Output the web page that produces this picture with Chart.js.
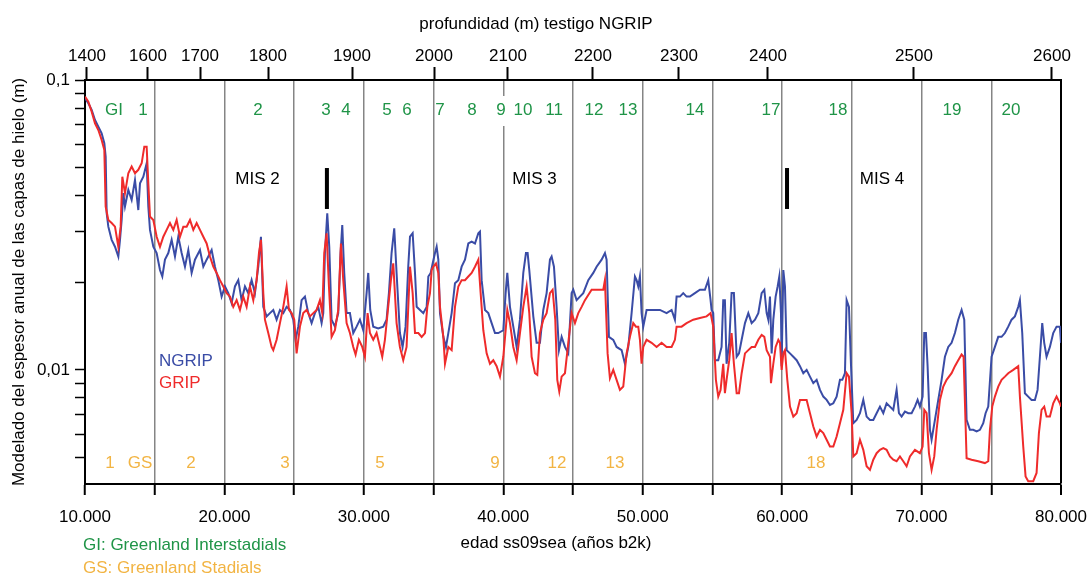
<!DOCTYPE html>
<html lang="es">
<head>
<meta charset="utf-8">
<title>Espesor anual de las capas de hielo - NGRIP / GRIP</title>
<script src="https://cdn.jsdelivr.net/npm/chart.js@4.4.1/dist/chart.umd.min.js"></script>
<style>
  html, body { margin: 0; padding: 0; background: #fff; }
  #wrap { width: 1089px; height: 576px; }
</style>
</head>
<body>
<div id="wrap"><canvas id="iceChart" width="1089" height="576"></canvas></div>
<script>
// Annual layer thickness (m) vs. ss09sea age (years b2k), NGRIP and GRIP cores

// [age, thickness]
const ngripSeries = [
  [10000,.0865],[10239,.0831],[10478,.0788],[10717,.0728],[10956,.0690],[11195,.0655],[11386,.0605],[11482,.0544],
  [11554,.0347],[11673,.0312],[11912,.0281],[12151,.0266],[12390,.0246],[12510,.0281],[12629,.0329],[12749,.0407],
  [12868,.0366],[13107,.0418],[13346,.0386],[13585,.0452],[13824,.0356],[13944,.0440],[14183,.0464],[14422,.0516],
  [14541,.0366],[14661,.0304],[14900,.0266],[15139,.0253],[15378,.0221],[15545,.0210],[15736,.0240],[15975,.0253],
  [16214,.0281],[16453,.0246],[16692,.0288],[16931,.0253],[17170,.0227],[17409,.0259],[17648,.0216],[17887,.0240],
  [18246,.0259],[18485,.0227],[18724,.0240],[19082,.0259],[19321,.0227],[19560,.0204],[19799,.0179],[20038,.0194],
  [20277,.0184],[20516,.0170],[20755,.0194],[20994,.0204],[21233,.0174],[21472,.0194],[21711,.0184],[21950,.0204],
  [22189,.0184],[22428,.0227],[22619,.0288],[22787,.0165],[23026,.0153],[23265,.0157],[23504,.0161],[23743,.0149],
  [23982,.0161],[24221,.0157],[24460,.0165],[24699,.0161],[24938,.0149],[25105,.0127],[25296,.0141],[25535,.0174],
  [25774,.0179],[26013,.0157],[26252,.0145],[26491,.0157],[26730,.0165],[26969,.0145],[27089,.0157],[27208,.0253],
  [27375,.0347],[27519,.0266],[27686,.0149],[27925,.0141],[28164,.0157],[28331,.0253],[28451,.0316],[28594,.0216],
  [28762,.0157],[29001,.0157],[29240,.0134],[29479,.0141],[29718,.0149],[29957,.0137],[30196,.0184],[30315,.0216],
  [30458,.0161],[30674,.0141],[31032,.0139],[31391,.0141],[31630,.0149],[31797,.0184],[31988,.0253],[32179,.0308],
  [32347,.0216],[32586,.0134],[32777,.0120],[32992,.0141],[33183,.0227],
  [33309,.0288],[33500,.0296],[33668,.0216],[33787,.0165],[34026,.0161],[34265,.0157],[34504,.0165],[34624,.0210],
  [34791,.0216],[34934,.0233],[35102,.0253],[35221,.0266],[35341,.0240],[35460,.0157],[35699,.0130],[35890,.0120],
  [36058,.0134],[36297,.0157],[36536,.0199],[36775,.0204],[37014,.0227],[37253,.0240],[37492,.0273],[37731,.0277],
  [37970,.0273],[38209,.0296],[38328,.0300],[38448,.0204],[38687,.0161],[38926,.0157],[39165,.0145],[39404,.0134],
  [39643,.0134],[40001,.0137],[40168,.0184],[40288,.0216],[40479,.0165],[40718,.0141],[40957,.0120],[41196,.0149],
  [41435,.0216],[41626,.0253],[41746,.0253],[41865,.0221],[42152,.0153],[42391,.0124],[42630,.0124],[42869,.0161],
  [43108,.0184],[43347,.0240],[43467,.0246],[43634,.0227],[43825,.0165],[43992,.0117],[44184,.0130],[44423,.0120],
  [44662,.0114],[44901,.0184],[45020,.0189],[45259,.0174],[45498,.0179],[45737,.0184],[46096,.0204],[46454,.0216],
  [46693,.0227],[47052,.0240],[47291,.0253],[47410,.0240],[47577,.0130],[47888,.0127],[48127,.0120],[48486,.0117],
  [48725,.0105],[48964,.0120],[49203,.0157],[49442,.0210],[49561,.0204],[49681,.0194],[49800,.0210],[49920,.0157],
  [50039,.0141],[50278,.0161],[50517,.0161],[50876,.0161],[51234,.0161],[51712,.0157],[52071,.0161],[52310,.0149],
  [52429,.0179],[52668,.0179],[52907,.0184],[53146,.0179],[53385,.0179],[53744,.0184],[54102,.0189],[54461,.0189],
  [54700,.0204],[54867,.0174],[54939,.0161],[55058,.0157],[55178,.0108],[55417,.0108],[55656,.0120],[55775,.0174],
  [55895,.0174],[56014,.0105],[56205,.0124],[56373,.0184],[56540,.0184],
  [56738,.0111],[56905,.0114],[57096,.0127],[57335,.0145],[57574,.0157],[57813,.0145],[58052,.0149],[58291,.0157],
  [58530,.0184],[58721,.0189],[58889,.0157],[59008,.0149],[59128,.0179],[59247,.0114],[59367,.0149],[59534,.0179],
  [59677,.0194],[59797,.0210],[59916,.0157],[59964,.0103],[60084,.0221],[60203,.0194],[60323,.0117],[60562,.0114],
  [60801,.0111],[61040,.0108],[61279,.0103],[61518,.00974],[61757,.0100],[61996,.00948],[62235,.00900],[62474,.00924],
  [62713,.00853],[62952,.00809],[63191,.00788],[63430,.00757],[63669,.00767],[63908,.00809],[64147,.00924],[64314,.00924],
  [64505,.00974],[64625,.0174],[64792,.0165],[64935,.0105],[65103,.00655],[65342,.00672],[65581,.00709],[65820,.00788],
  [66059,.00690],[66298,.00672],[66537,.00672],[66776,.00709],[67015,.00747],[67254,.00709],[67493,.00767],[67732,.00747],
  [67971,.00728],[68210,.00853],[68377,.00709],[68568,.00690],[68807,.00718],[69046,.00709],[69285,.00709],[69524,.00747],
  [69715,.00788],[69883,.00747],[70074,.00809],[70193,.0134],[70313,.0134],[70432,.0103],[70600,.00621],[70719,.00574],
  [70958,.00672],[71197,.00788],[71436,.00924],[71675,.0111],[71914,.0120],[72153,.0124],[72392,.0134],[72631,.0149],
  [72870,.0161],[73061,.0149],[73229,.00672],[73468,.00621],[73707,.00621],[73946,.00613],[74185,.00621],[74424,.00655],
  [74591,.00709],[74782,.00747],[75021,.0111],[75260,.0120],[75499,.0130],[75738,.0130],[75977,.0134],[76216,.0141],
  [76455,.0149],[76694,.0153],[76933,.0165],[77053,.0174],[77220,.0134],[77411,.00831],[77650,.00809],[77889,.00788],
  [78128,.00788],[78319,.00853],[78487,.0111],[78654,.0145],[78797,.0124],[78965,.0111],[79204,.0120],[79443,.0134],
  [79682,.0141],[79921,.0141],[80000,.0124]
];

const gripSeries = [
  [10000,.0876],[10239,.0842],[10478,.0778],[10717,.0709],[10956,.0672],[11195,.0621],[11386,.0574],[11482,.0366],
  [11673,.0329],[11912,.0321],[12151,.0312],[12390,.0266],[12557,.0312],[12677,.0464],[12868,.0407],[13107,.0477],
  [13346,.0503],[13585,.0477],[13824,.0490],[14063,.0516],[14254,.0589],[14422,.0589],[14541,.0440],[14661,.0338],
  [14900,.0329],[15139,.0288],[15378,.0266],[15617,.0288],[15856,.0304],[16095,.0321],[16334,.0304],[16573,.0329],
  [16812,.0288],[17051,.0312],[17290,.0312],[17529,.0329],[17768,.0304],[18007,.0321],[18246,.0304],[18485,.0288],
  [18724,.0273],[18963,.0246],[19202,.0227],[19441,.0216],[19680,.0204],[19919,.0194],[20158,.0184],[20397,.0179],
  [20636,.0165],[20875,.0174],[21114,.0161],[21353,.0179],[21592,.0165],[21831,.0194],[22070,.0174],[22309,.0204],
  [22476,.0253],[22619,.0281],[22787,.0184],[22906,.0149],[23145,.0134],[23384,.0120],[23504,.0117],[23743,.0127],
  [23982,.0145],[24221,.0165],[24460,.0194],[24627,.0161],[24818,.0157],[25009,.0149],[25177,.0114],[25416,.0141],
  [25655,.0157],[25894,.0161],[26133,.0153],[26372,.0157],[26611,.0161],[26850,.0174],[27017,.0157],[27160,.0253],
  [27328,.0296],[27495,.0194],[27686,.0130],[27925,.0137],[28164,.0161],[28355,.0273],[28523,.0204],[28762,.0145],
  [29001,.0134],[29240,.0120],[29407,.0113],[29646,.0127],[29885,.0120],[30076,.0111],[30267,.0157],[30435,.0134],
  [30674,.0127],[30913,.0134],[31152,.0120],[31319,.0111],[31510,.0127],[31701,.0157],[31940,.0204],[32108,.0233],
  [32347,.0145],[32586,.0120],[32825,.0108],[33064,.0120],
  [33309,.0227],[33500,.0184],[33668,.0134],[33907,.0134],[34146,.0130],[34385,.0134],[34552,.0165],[34743,.0184],
  [34863,.0221],[34982,.0227],[35173,.0233],[35341,.0216],[35460,.0165],[35699,.0130],[35819,.0105],[36058,.0120],
  [36297,.0117],[36536,.0165],[36775,.0194],[37014,.0204],[37253,.0204],[37492,.0210],[37731,.0216],[37970,.0227],
  [38209,.0240],[38376,.0184],[38567,.0137],[38806,.0114],[39045,.0105],[39284,.0108],[39523,.0103],[39762,.00948],
  [40001,.0111],[40192,.0141],[40288,.0161],[40479,.0145],[40718,.0120],[40957,.0108],[41196,.0134],[41435,.0165],
  [41674,.0194],[41865,.0157],[42033,.0111],[42272,.00974],[42439,.00961],[42630,.0134],[42869,.0149],[43108,.0157],
  [43347,.0184],[43538,.0189],[43729,.0149],[43873,.00924],[44016,.00842],[44184,.00948],[44423,.00974],[44662,.0124],
  [44901,.0157],[45140,.0145],[45379,.0157],[45618,.0165],[45857,.0174],[46335,.0189],[46813,.0189],[47171,.0189],
  [47291,.0204],[47482,.0114],[47649,.00936],[47888,.0100],[48127,.00924],[48366,.00853],[48605,.00876],[48844,.0114],
  [49083,.0130],[49322,.0145],[49513,.0141],[49681,.0141],[49800,.0127],[49920,.0105],[50039,.0120],[50278,.0127],
  [50637,.0124],[50995,.0120],[51354,.0124],[51712,.0120],[52071,.0120],[52310,.0127],[52429,.0141],[52788,.0141],
  [53146,.0145],[53624,.0149],[54102,.0151],[54580,.0153],[54867,.0157],[55058,.0141],[55249,.00924],[55417,.00809],
  [55584,.00853],[55775,.0105],[55895,.00831],[56014,.00924],[56205,.0108],[56373,.0134],[56540,.0105],
  [56738,.00831],[56905,.00831],[57096,.00974],[57335,.0114],[57574,.0117],[57813,.0120],[58052,.0120],[58291,.0127],
  [58530,.0132],[58721,.0130],[58889,.0117],[59128,.0111],[59199,.00900],[59367,.0105],[59534,.0120],[59725,.0127],
  [59845,.0124],[59964,.0100],[60084,.0114],[60203,.0117],[60370,.00924],[60562,.00747],[60801,.00690],[61040,.00709],
  [61279,.00788],[61518,.00788],[61757,.00788],[61996,.00709],[62235,.00638],[62474,.00589],[62713,.00621],[62952,.00605],
  [63191,.00574],[63430,.00544],[63669,.00544],[63908,.00589],[64147,.00655],[64386,.00728],[64625,.00974],[64792,.00948],
  [64983,.00709],[65103,.00503],[65342,.00516],[65581,.00574],[65820,.00530],[66059,.00465],[66298,.00452],[66537,.00490],
  [66776,.00516],[67015,.00530],[67254,.00537],[67493,.00530],[67732,.00503],[67971,.00490],[68210,.00484],[68449,.00503],
  [68688,.00484],[68927,.00465],[69166,.00503],[69524,.00530],[69883,.00516],[70074,.00544],[70193,.00728],[70361,.00709],
  [70528,.00516],[70719,.00452],[70910,.00503],[71078,.00621],[71317,.00788],[71556,.00876],[71795,.00924],[72153,.00974],
  [72392,.0103],[72631,.0108],[72870,.0113],[73013,.0111],[73229,.00496],[73587,.00490],[74065,.00484],[74543,.00477],
  [74782,.00484],[74902,.00621],[75069,.00747],[75260,.00809],[75499,.00876],[75738,.00924],[75977,.00948],[76216,.00974],
  [76575,.0100],[76933,.0103],[77053,.00809],[77292,.00544],[77459,.00429],[77650,.00413],[78009,.00413],[78248,.00441],
  [78415,.00605],[78606,.00728],[78797,.00747],[78965,.00690],[79204,.00690],[79443,.00767],[79682,.00809],[79921,.00767],
  [80000,.00747]
];

// bottom axis: age ticks every 5000 yr, labelled every 10000
const ageTicks = [10000, 15000, 20000, 25000, 30000, 35000, 40000, 45000, 50000, 55000, 60000, 65000, 70000, 75000, 80000];
// top axis: NGRIP depth (m) and the age each depth sits at
const depthTicks    = [1400, 1600, 1700, 1800, 1900, 2000, 2100, 2200, 2300, 2400, 2500, 2600];
const depthTickAges = [10143, 14518, 18248, 23125, 29150, 35031, 40338, 46434, 52602, 58985, 69456, 79353];
// log axis ticks, only the decades are labelled
const thicknessTicks = [0.005, 0.006, 0.007, 0.008, 0.009, 0.01, 0.02, 0.03, 0.04, 0.05, 0.06, 0.07, 0.08, 0.09, 0.1];
const thicknessLabels = { 0.1: '0,1', 0.01: '0,01' };

// Greenland interstadials (top row) and stadials (bottom row), placed by age
const giLabels = [
  ['GI', 12080], ['1', 14160], ['2', 22410], ['3', 27285], ['4', 28720], ['5', 31660], ['6', 33090],
  ['7', 35460], ['8', 37760], ['9', 39840], ['10', 41410], ['11', 43640], ['12', 46500], ['13', 48940],
  ['14', 53750], ['17', 59200], ['18', 64000], ['19', 72180], ['20', 76410]
];
const gsLabels = [
  ['1', 11790], ['GS', 13940], ['2', 17600], ['3', 24340], ['5', 31160], ['9', 39400],
  ['12', 43850], ['13', 48010], ['18', 62430]
];
const misLabels = [['MIS 2', 22370], ['MIS 3', 42240], ['MIS 4', 67160]];
// MIS boundary markers: [age, lower thickness, upper thickness]
const misBounds = [[27350, 0.0359, 0.0497], [60350, 0.0359, 0.0497]];

const BLUE = '#3a4ca6';
const RED = '#ef2b2b';
const GI_COLOR = '#1f9447';
const GS_COLOR = '#f2b443';
const GRID = '#858585';
const FONT = '"Liberation Sans", Arial, Helvetica, sans-serif';

Chart.defaults.font.family = FONT;
Chart.defaults.font.size = 17;
Chart.defaults.color = '#000';

function toPoints(series) {
  return series.map(p => ({ x: p[0], y: p[1] }));
}

function fmtAge(v) {
  return (v / 1000) + '.000';
}

// keep the plot box fixed: 85px axis on the left, 28px margin on the right
function fixHorizontal(height) {
  return scale => {
    scale.height = height;
    scale.paddingLeft = 0;
    scale.paddingRight = 28;
  };
}

// texts, markers and series names drawn over the plot
const overlay = {
  id: 'overlay',
  afterDatasetsDraw(chart) {
    const { ctx, chartArea: area, scales } = chart;
    const x = scales.x, y = scales.y;
    ctx.save();
    ctx.font = '17px ' + FONT;
    ctx.textBaseline = 'middle';
    ctx.textAlign = 'center';

    giLabels.forEach(([txt, age]) => {
      const px = x.getPixelForValue(age);
      if (txt === '9') {
        // the 40.000 line is broken around this label
        ctx.fillStyle = '#fff';
        ctx.fillRect(px - 4, area.top + 16, 10, 30);
      }
      ctx.fillStyle = GI_COLOR;
      ctx.fillText(txt, px, area.top + 30);
    });

    ctx.fillStyle = GS_COLOR;
    gsLabels.forEach(([txt, age]) => {
      ctx.fillText(txt, x.getPixelForValue(age), area.bottom - 21);
    });

    ctx.fillStyle = '#000';
    misLabels.forEach(([txt, age]) => {
      ctx.fillText(txt, x.getPixelForValue(age), area.top + 99);
    });
    misBounds.forEach(([age, lo, hi]) => {
      const px = x.getPixelForValue(age);
      const y1 = y.getPixelForValue(hi);
      const y2 = y.getPixelForValue(lo);
      ctx.fillRect(px - 2, y1, 4, y2 - y1);
    });

    // series names
    ctx.textAlign = 'left';
    ctx.fillStyle = BLUE;
    ctx.fillText('NGRIP', area.left + 74, area.top + 281);
    ctx.fillStyle = RED;
    ctx.fillText('GRIP', area.left + 74, area.top + 303);

    // axis titles and key
    ctx.fillStyle = '#000';
    ctx.textAlign = 'center';
    ctx.fillText('profundidad (m) testigo NGRIP', 536, area.top - 56);
    ctx.fillText('edad ss09sea (años b2k)', 556, area.bottom + 59);
    ctx.textAlign = 'left';
    ctx.fillStyle = GI_COLOR;
    ctx.fillText('GI: Greenland Interstadials', 83, area.bottom + 61);
    ctx.fillStyle = GS_COLOR;
    ctx.fillText('GS: Greenland Stadials', 83, area.bottom + 84);
    ctx.restore();
  }
};

new Chart(document.getElementById('iceChart'), {
  type: 'line',
  data: {
    datasets: [
      {
        label: 'GRIP',
        data: toPoints(gripSeries),
        borderColor: RED,
        borderWidth: 2,
        pointRadius: 0,
        tension: 0,
        order: 0
      },
      {
        label: 'NGRIP',
        data: toPoints(ngripSeries),
        borderColor: BLUE,
        borderWidth: 2,
        pointRadius: 0,
        tension: 0,
        order: 1
      }
    ]
  },
  options: {
    responsive: false,
    animation: false,
    devicePixelRatio: 1,
    layout: { padding: 0 },
    plugins: {
      legend: { display: false },
      tooltip: { enabled: false }
    },
    scales: {
      x: {
        type: 'linear',
        position: 'bottom',
        min: 10000,
        max: 80000,
        afterBuildTicks: scale => { scale.ticks = ageTicks.map(v => ({ value: v })); },
        afterFit: fixHorizontal(92),
        ticks: {
          autoSkip: false,
          maxRotation: 0,
          padding: 12,
          callback: v => (v % 10000 === 0 ? fmtAge(v) : '')
        },
        grid: {
          drawOnChartArea: true,
          color: c => (c.tick && c.tick.value === 80000 ? '#000' : GRID),
          lineWidth: c => (c.tick && c.tick.value === 80000 ? 2 : 1.5),
          tickLength: 11,
          tickColor: '#000',
          tickWidth: 2
        },
        border: { display: true, color: '#000', width: 2 }
      },
      depth: {
        type: 'linear',
        position: 'top',
        min: 10000,
        max: 80000,
        afterBuildTicks: scale => { scale.ticks = depthTickAges.map(v => ({ value: v })); },
        afterFit: fixHorizontal(80),
        ticks: {
          autoSkip: false,
          maxRotation: 0,
          padding: 0,
          callback: (v, i) => String(depthTicks[i])
        },
        grid: {
          drawOnChartArea: false,
          tickLength: 13,
          tickColor: '#000',
          tickWidth: 2
        },
        border: { display: true, color: '#000', width: 2 }
      },
      y: {
        type: 'logarithmic',
        position: 'left',
        min: 0.00404,
        max: 0.1,
        afterBuildTicks: scale => { scale.ticks = thicknessTicks.map(v => ({ value: v })); },
        afterFit: scale => {
          scale.width = 85;
          scale.paddingTop = 0;
          scale.paddingBottom = 0;
        },
        ticks: {
          autoSkip: false,
          padding: 5,
          callback: v => thicknessLabels[v] || ''
        },
        grid: {
          drawOnChartArea: false,
          tickLength: 10,
          tickColor: '#000',
          tickWidth: 1.5
        },
        border: { display: true, color: '#000', width: 2 },
        title: {
          display: true,
          text: 'Modelado del espesor anual de las capas de hielo (m)',
          font: { size: 17 },
          padding: { top: 9, bottom: 0 }
        }
      }
    }
  },
  plugins: [overlay]
});
</script>
</body>
</html>
